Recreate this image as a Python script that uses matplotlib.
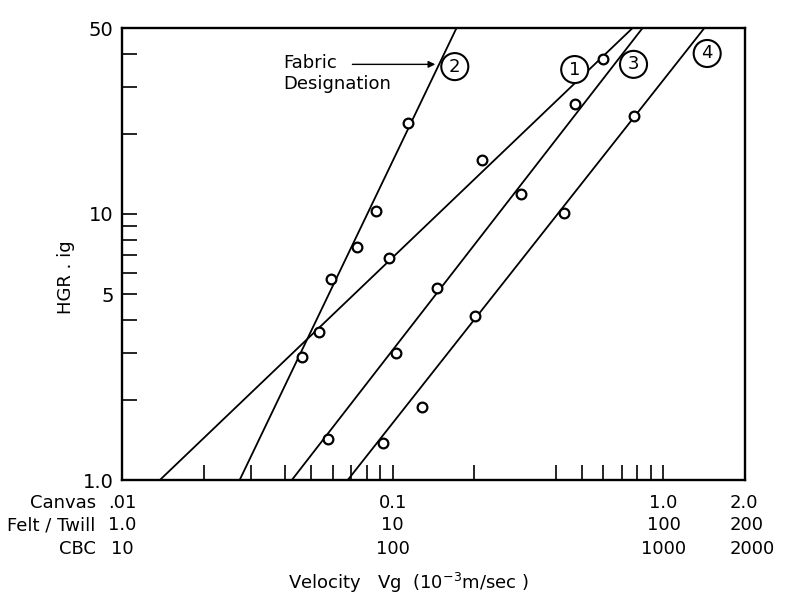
import matplotlib.pyplot as plt
from matplotlib.ticker import NullLocator
from matplotlib.transforms import blended_transform_factory

plt.rcParams['font.family'] = 'DejaVu Sans'

# measured points (x on the Canvas velocity scale, y = HGR)
f1_vel = [0.0533, 0.0966, 0.213, 0.596]
f1_hgr = [3.61, 6.84, 15.9, 38.1]
f2_vel = [0.0461, 0.0589, 0.0736, 0.0866, 0.1136]
f2_hgr = [2.91, 5.71, 7.52, 10.3, 21.9]
f3_vel = [0.0575, 0.1026, 0.1453, 0.2966, 0.473]
f3_hgr = [1.42, 2.99, 5.28, 11.9, 25.8]
f4_vel = [0.0918, 0.128, 0.201, 0.428, 0.775]
f4_hgr = [1.38, 1.88, 4.15, 10.1, 23.3]

# fitted lines: velocity where each line crosses HGR = 1 and HGR = 50
fit_hgr = [1.0, 50.0]
fit1_vel = [0.0138, 0.769]
fit2_vel = [0.0272, 0.172]
fit3_vel = [0.0424, 0.837]
fit4_vel = [0.0682, 1.416]

# fabric designation labels (x, y, text)
tag_vel = [0.470, 0.1695, 0.775, 1.45]
tag_hgr = [34.9, 35.8, 36.5, 40.1]
tag_txt = ['1', '2', '3', '4']

# axis ticks
xtick_pos = [0.02, 0.03, 0.04, 0.05, 0.06, 0.07, 0.08, 0.09, 0.1,
             0.2, 0.4, 0.5, 0.6, 0.7, 0.8, 0.9, 1.0]
ytick_major = [1, 5, 10, 50]
ytick_labels = ['1.0', '5', '10', '50']
ytick_minor = [2, 3, 4, 6, 7, 8, 9, 20, 30, 40]

scale_pos = [0.01, 0.1, 1.0, 1.75]
scale_names = ['Canvas', 'Felt / Twill', 'CBC']
canvas_lbl = ['.01', '0.1', '1.0', '2.0']
felt_lbl = ['1.0', '10', '100', '200']
cbc_lbl = ['10', '100', '1000', '2000']

fig = plt.figure(figsize=(7.87, 5.98), dpi=100)
ax = fig.add_axes([122 / 787, 1 - 480 / 598, 623 / 787, 452 / 598])
ax.set_xscale('log')
ax.set_yscale('log')
ax.set_xlim(0.01, 2.0)
ax.set_ylim(1.0, 50)

for fv in [fit1_vel, fit2_vel, fit3_vel, fit4_vel]:
    ax.plot(fv, fit_hgr, color='black', lw=1.3)
for xs, ys in [(f1_vel, f1_hgr), (f2_vel, f2_hgr), (f3_vel, f3_hgr), (f4_vel, f4_hgr)]:
    ax.plot(xs, ys, 'o', ms=7, mfc='white', mec='black', mew=1.6, ls='none')

for x, y, t in zip(tag_vel, tag_hgr, tag_txt):
    ax.text(x, y, t, ha='center', va='center', fontsize=13,
            bbox=dict(boxstyle='circle,pad=0.25', fc='white', ec='black', lw=1.5))

ax.text(0.0393, 36.8, 'Fabric', fontsize=13, ha='left', va='center')
ax.text(0.0393, 30.7, 'Designation', fontsize=13, ha='left', va='center')
ax.annotate('', xy=(0.147, 36.5), xytext=(0.0693, 36.5),
            arrowprops=dict(arrowstyle='-|>', lw=1, color='black', mutation_scale=10))

for s in ax.spines.values():
    s.set_linewidth(1.7)

ax.set_xticks(xtick_pos, labels=[''] * len(xtick_pos))
ax.xaxis.set_minor_locator(NullLocator())
ax.set_yticks(ytick_major, labels=ytick_labels)
ax.set_yticks(ytick_minor, minor=True)
ax.tick_params(axis='both', which='both', direction='in', length=11, width=1.2)
ax.tick_params(axis='y', labelsize=14, pad=6)

tr = blended_transform_factory(ax.transData, ax.transAxes)
rows_y = [-0.051, -0.100, -0.153]
for row, (name, lbls) in enumerate(zip(scale_names, [canvas_lbl, felt_lbl, cbc_lbl])):
    ax.text(-0.042, rows_y[row], name, transform=ax.transAxes, ha='right', va='center', fontsize=13)
    for i, (x, t) in enumerate(zip(scale_pos, lbls)):
        ax.text(x, rows_y[row], t, transform=tr, ha='left' if i == 3 else 'center',
                va='center', fontsize=13)

ax.text(0.46, -0.228, r'Velocity   Vg  (10$^{-3}$m/sec )', transform=ax.transAxes,
        ha='center', va='center', fontsize=13)
fig.text(66 / 787, 1 - 277 / 598, 'HGR . ig', rotation=90, ha='center', va='center', fontsize=13)

fig.savefig('out.png', dpi=100)
